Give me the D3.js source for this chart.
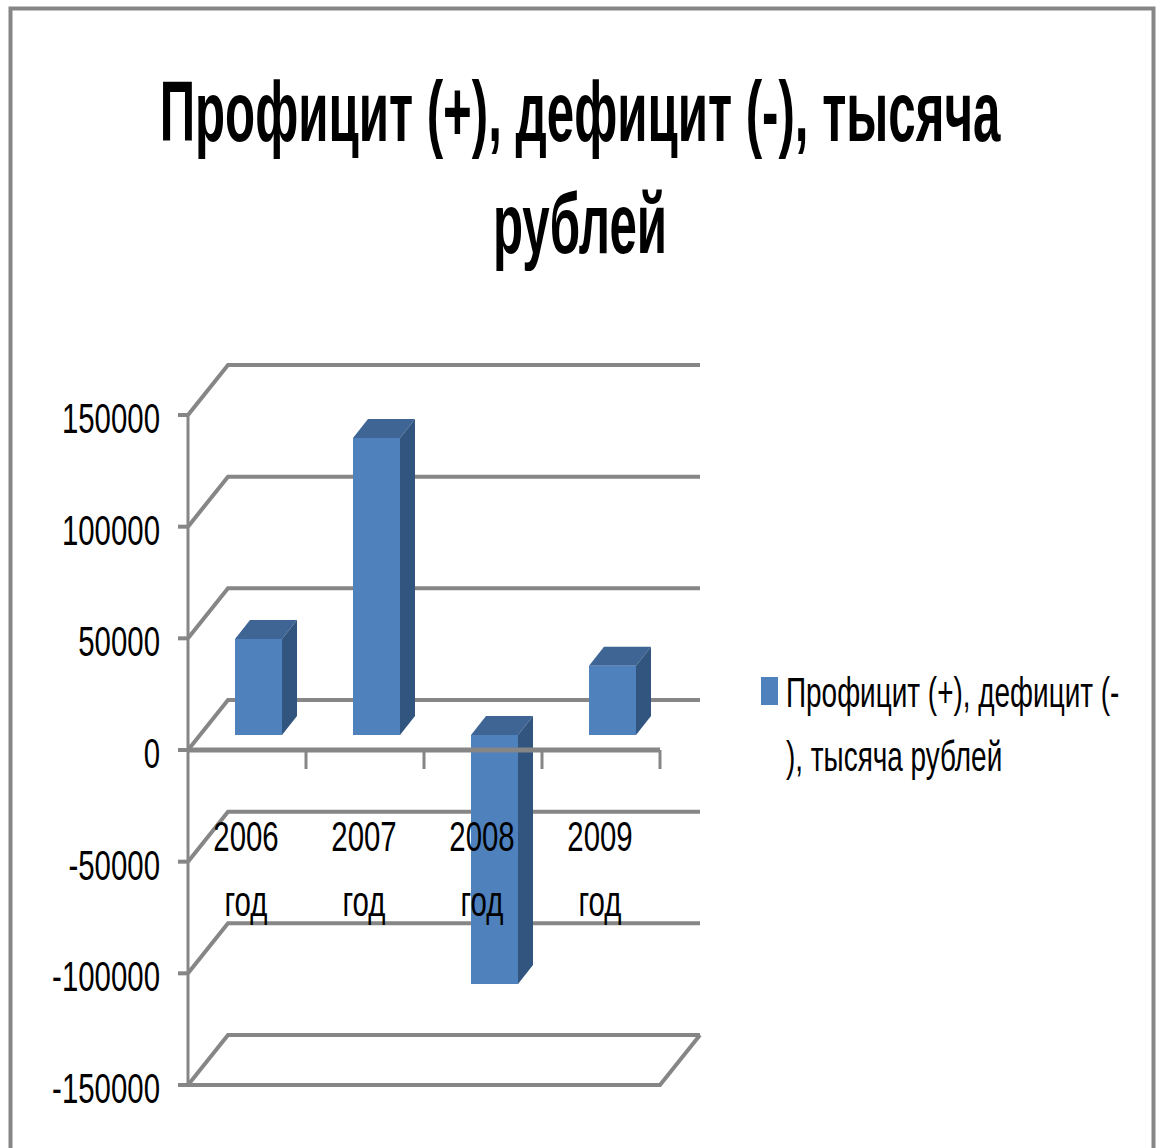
<!DOCTYPE html>
<html>
<head>
<meta charset="utf-8">
<script src="https://cdn.jsdelivr.net/npm/d3@7"></script>
<style>
  html, body { margin: 0; padding: 0; background: #fff; }
  text { font-family: "Liberation Sans", Arial, sans-serif; fill: #000; }
</style>
</head>
<body>
<div id="chart"></div>
<script>
const years = ['2006', '2007', '2008', '2009']
const values = [43000, 133000, -111500, 31000]
const yTicks = [150000, 100000, 50000, 0, -50000, -100000, -150000]
const titleLines = ['Профицит (+), дефицит (-), тысяча', 'рублей']
const legendLines = ['Профицит (+), дефицит (-', '), тысяча рублей']

const width = 1156
const height = 1148

const svg = d3.select('#chart').append('svg')
  .attr('width', width)
  .attr('height', height)
  .style('display', 'block')

// picture frame
svg.append('rect')
  .attr('x', 10.5).attr('y', 8.5)
  .attr('width', 1143).attr('height', 1150)
  .attr('fill', '#fff')
  .attr('stroke', '#868686')
  .attr('stroke-width', 4)

const yScale = d3.scaleLinear().domain([-150000, 150000]).range([1085, 415])
const xScale = d3.scaleBand().domain(years).range([188, 660])

// depth of the 3d box
const depthX = 40
const depthY = -50

// the picture is squashed horizontally, so the text is too
function squashedText(x, y, str, size, anchor, sx) {
  return svg.append('text')
    .attr('transform', `translate(${x},${y}) scale(${sx},1)`)
    .attr('text-anchor', anchor)
    .attr('font-size', size)
    .text(str)
}

const gridColor = '#868686'

// gridlines: back wall, side wall
yTicks.forEach(t => {
  const y = yScale(t)
  svg.append('path')
    .attr('d', `M${xScale.range()[0]},${y}L${xScale.range()[0] + depthX},${y + depthY}L700,${y + depthY}`)
    .attr('fill', 'none')
    .attr('stroke', gridColor)
    .attr('stroke-width', 4)
})

// floor at the bottom
const bottom = yScale(-150000)
svg.append('path')
  .attr('d', `M188,${bottom}L660,${bottom}L700,${bottom + depthY}`)
  .attr('fill', 'none')
  .attr('stroke', gridColor)
  .attr('stroke-width', 4)

// left axis
svg.append('line')
  .attr('x1', 188).attr('x2', 188)
  .attr('y1', yScale(150000)).attr('y2', bottom)
  .attr('stroke', gridColor).attr('stroke-width', 3)

yTicks.forEach(t => {
  const y = yScale(t)
  svg.append('line')
    .attr('x1', 178).attr('x2', 188)
    .attr('y1', y).attr('y2', y)
    .attr('stroke', gridColor).attr('stroke-width', 4)
  squashedText(160, y + 18, String(t), 42, 'end', 0.7)
})

// bars
const barW = 47
const barDx = 15
const barDy = -19
const base = yScale(0) - 15

const bars = svg.append('g')
values.forEach((v, i) => {
  const x0 = xScale(years[i]) + xScale.bandwidth() / 2 - 12
  const end = base - (yScale(0) - yScale(v))
  const top = Math.min(base, end)
  const bot = Math.max(base, end)
  bars.append('path')
    .attr('d', `M${x0},${top}L${x0 + barDx},${top + barDy}L${x0 + barW + barDx},${top + barDy}L${x0 + barW},${top}Z`)
    .attr('fill', '#3f6595')
  bars.append('path')
    .attr('d', `M${x0 + barW},${top}L${x0 + barW + barDx},${top + barDy}L${x0 + barW + barDx},${bot + barDy}L${x0 + barW},${bot}Z`)
    .attr('fill', '#31557f')
  bars.append('rect')
    .attr('x', x0).attr('y', top)
    .attr('width', barW).attr('height', bot - top)
    .attr('fill', '#4f81bd')
})

// zero axis on the front, with ticks
const zero = yScale(0)
svg.append('path')
  .attr('d', `M188,${zero}L660,${zero}`)
  .attr('stroke', gridColor).attr('stroke-width', 5)
years.forEach(y => {
  const x = xScale(y) + xScale.bandwidth()
  svg.append('line')
    .attr('x1', x).attr('x2', x)
    .attr('y1', zero).attr('y2', zero + 19)
    .attr('stroke', gridColor).attr('stroke-width', 3)
})

// category labels
years.forEach(y => {
  const cx = xScale(y) + xScale.bandwidth() / 2 - 1
  squashedText(cx, 851, y, 42, 'middle', 0.7)
  squashedText(cx, 916, 'год', 42, 'middle', 0.7)
})

// title
titleLines.forEach((line, i) => {
  svg.append('text')
    .attr('transform', `translate(580,${141 + i * 112}) scale(0.579,1)`)
    .attr('text-anchor', 'middle')
    .attr('font-size', 85)
    .attr('font-weight', 'bold')
    .text(line)
})

// legend
svg.append('rect')
  .attr('x', 761).attr('y', 677)
  .attr('width', 17).attr('height', 28)
  .attr('fill', '#4f81bd')
legendLines.forEach((line, i) => {
  squashedText(786, 707 + i * 64, line, 42, 'start', 0.665)
})
</script>
</body>
</html>
